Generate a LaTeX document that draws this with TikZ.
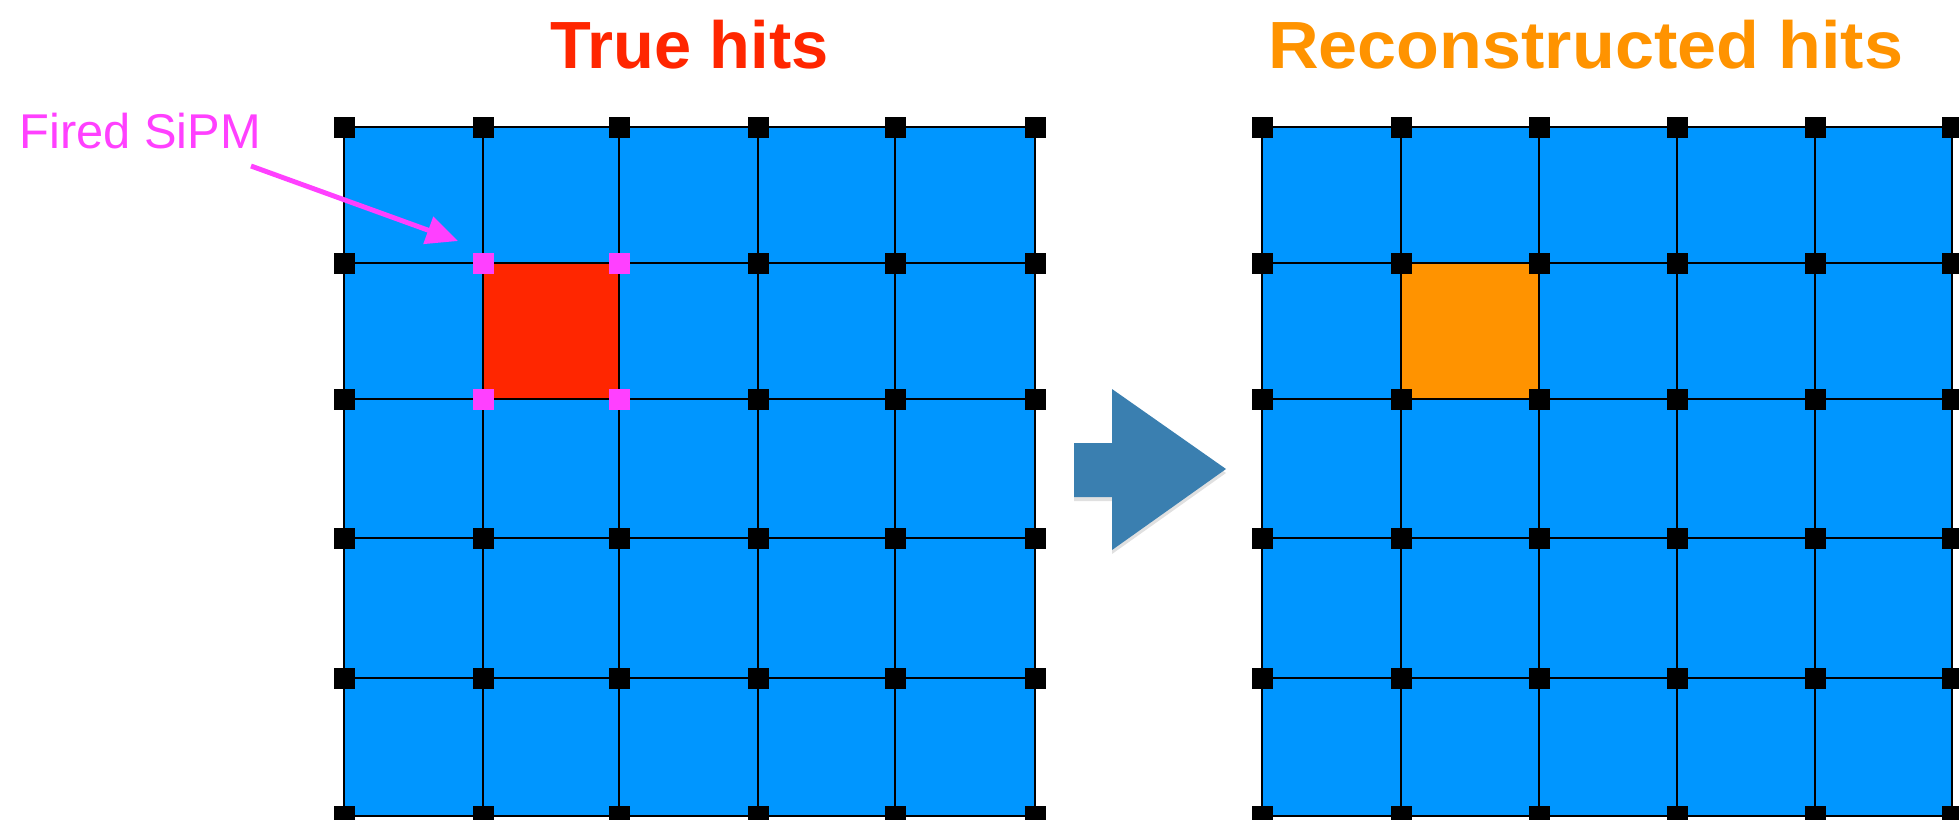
\documentclass[tikz,border=0pt]{standalone}
\usepackage{fontspec}
\setmainfont{Liberation Sans}
\usetikzlibrary{arrows.meta}
\definecolor{cellblue}{RGB}{0,150,255}
\definecolor{hitred}{RGB}{255,38,0}
\definecolor{hitorange}{RGB}{255,147,0}
\definecolor{sipmmag}{RGB}{255,64,255}
\definecolor{arrblue}{RGB}{58,127,176}
\tikzset{
  gridline/.style={black, line width=1.6pt},
  sensor/.style={fill=black},
  firedsensor/.style={fill=sipmmag},
  titletext/.style={anchor=base west, inner sep=0pt, font=\bfseries\fontsize{38}{38}\selectfont},
}
\begin{document}
\begin{tikzpicture}[x=0.02cm,y=-0.02cm]
\useasboundingbox (0,0) rectangle (1959,819);
% ---------- left grid (true hits) ----------
\fill[cellblue] (344,127) rectangle (1035,816);
\fill[hitred] (483,263) rectangle (619,399);
\foreach \x in {344,483,619,758,895,1035} \draw[gridline] (\x,127) -- (\x,816);
\foreach \y in {127,263,399,538,678,816} \draw[gridline] (344,\y) -- (1035,\y);
\foreach \x in {344,483,619,758,895,1035}
  \foreach \y in {127,263,399,538,678,816}
    \fill[sensor] (\x-10.5,\y-10.5) rectangle ++(21,21);
\foreach \x/\y in {483/263,619/263,483/399,619/399}
  \fill[firedsensor] (\x-10.5,\y-10.5) rectangle ++(21,21);
% ---------- right grid (reconstructed hits) ----------
\fill[cellblue] (1262,127) rectangle (1952,816);
\fill[hitorange] (1401,263) rectangle (1539,399);
\foreach \x in {1262,1401,1539,1677,1815,1952} \draw[gridline] (\x,127) -- (\x,816);
\foreach \y in {127,263,399,538,678,816} \draw[gridline] (1262,\y) -- (1952,\y);
\foreach \x in {1262,1401,1539,1677,1815,1952}
  \foreach \y in {127,263,399,538,678,816}
    \fill[sensor] (\x-10.5,\y-10.5) rectangle ++(21,21);
% ---------- big arrow ----------
\fill[black, opacity=0.12] (1074,447) -- (1112,447) -- (1112,393) -- (1226,473) -- (1112,554) -- (1112,501) -- (1074,501) -- cycle;
\fill[arrblue] (1074,443) -- (1112,443) -- (1112,389) -- (1226,469) -- (1112,550) -- (1112,497) -- (1074,497) -- cycle;
% ---------- titles ----------
\node[titletext, text=hitred] (truehits) at (550,68) {True hits};
\node[titletext, text=hitorange] (recohits) at (1268,68) {\scalebox{1.05}[1]{Reconstructed hits}};
% ---------- fired SiPM label ----------
\node[anchor=base west, inner sep=0pt, text=sipmmag, font=\fontsize{27.8}{27.8}\selectfont] (fired) at (19,148) {Fired SiPM};
\coordinate (firedstart) at (251,166);
\coordinate (firedtip) at (458,241);
\draw[sipmmag, line width=2.8pt, -{Triangle[length=18pt, width=16pt]}] (firedstart) -- (firedtip);
\end{tikzpicture}
\end{document}
